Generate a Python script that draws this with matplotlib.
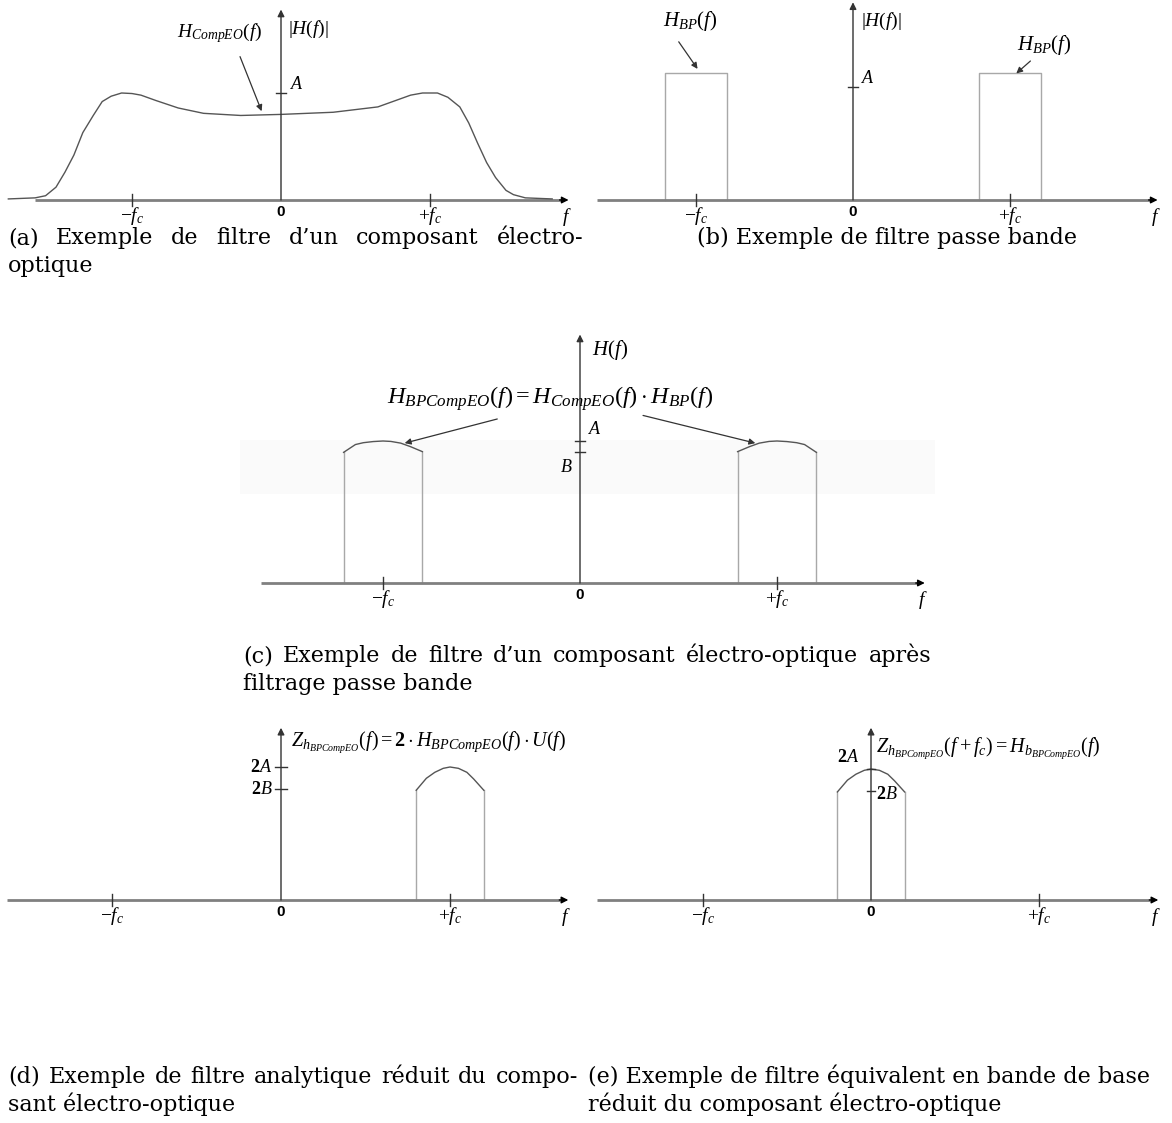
import matplotlib.pyplot as plt
from matplotlib.patches import Rectangle

W, H = 1172, 1123

# ---- data (f in units of f_c, magnitudes in units of A) ----
# (a) electro-optic component response
f_eo = [-1.83, -1.65, -1.58, -1.51, -1.45, -1.39, -1.33, -1.26, -1.20, -1.14,
        -1.07, -1.00, -0.94, -0.84, -0.69, -0.52, -0.27, 0.00, 0.35, 0.65,
        0.77, 0.87, 0.95, 1.05, 1.12, 1.20, 1.26, 1.32, 1.38, 1.44,
        1.51, 1.56, 1.64, 1.82]
h_eo = [0.01, 0.02, 0.04, 0.12, 0.26, 0.42, 0.63, 0.79, 0.92, 0.97,
        1.00, 0.995, 0.98, 0.93, 0.86, 0.81, 0.79, 0.80, 0.82, 0.87,
        0.93, 0.98, 1.00, 1.00, 0.96, 0.87, 0.72, 0.53, 0.35, 0.21,
        0.09, 0.05, 0.02, 0.01]

# (b) band-pass windows
bp_lo, bp_hi = 0.8, 1.2
bp_gain = 1.12

# (c) band-pass filtered response (dome between bp_lo and bp_hi)
f_dome = [0.80, 0.86, 0.91, 0.96, 1.00, 1.05, 1.10, 1.14, 1.20]
h_dome_c = [0.925, 0.96, 0.985, 0.997, 1.00, 0.996, 0.988, 0.975, 0.92]
level_A_c, level_B_c = 1.0, 0.92

# (d) reduced analytic filter, (e) baseband equivalent (same shape shifted by f_c)
h_dome_d = [1.65, 1.83, 1.92, 1.98, 2.00, 1.98, 1.92, 1.82, 1.65]
level_2A, level_2B = 2.0, 1.67

tick_f = [-1, 0, 1]
tick_lbl = [r"$-f_c$", "0", r"$+f_c$"]

plt.rcParams['mathtext.fontset'] = 'custom'
plt.rcParams['mathtext.rm'] = 'Liberation Serif'
plt.rcParams['mathtext.it'] = 'Liberation Serif:italic'
plt.rcParams['mathtext.bf'] = 'Liberation Serif:bold'

fig = plt.figure(figsize=(W / 100, H / 100), dpi=100)

AX_GREY = '#808080'
DARK = '#333333'
CURVE = '#555555'
BOX = '#a8a8a8'


def make_panel(box, origin, unit):
    # box = (left, top, right, bottom) px, origin = px of (0, 0), unit = px per unit
    l, t, r, b = box
    x0, y0 = origin
    ux, uy = unit
    ax = fig.add_axes([l / W, 1 - b / H, (r - l) / W, (b - t) / H])
    ax.set_xlim((l - x0) / ux, (r - x0) / ux)
    ax.set_ylim((y0 - b) / uy, (y0 - t) / uy)
    ax.axis('off')
    ax.ux, ax.uy = ux, uy
    return ax


def draw_axes(ax, xmin, xmax, ytop):
    dx = 1.0 / ax.ux
    dy = 1.0 / ax.uy
    ax.plot([xmin, xmax - 8 * dx], [0, 0], color=AX_GREY, lw=2, solid_capstyle='butt', zorder=2)
    ax.annotate('', xy=(xmax, 0), xytext=(xmax - 9 * dx, 0),
                arrowprops=dict(arrowstyle='-|>', color='black', lw=1, mutation_scale=10,
                                shrinkA=0, shrinkB=0))
    ax.annotate('', xy=(0, ytop), xytext=(0, 0),
                arrowprops=dict(arrowstyle='-|>', color=DARK, lw=1, mutation_scale=10,
                                shrinkA=0, shrinkB=0), zorder=3)
    for f, s in zip(tick_f, tick_lbl):
        if f != 0:
            ax.plot([f, f], [-6 * dy, 6 * dy], color=DARK, lw=1, zorder=3)
            ax.text(f, -5 * dy, s, ha='center', va='top', fontsize=14)
        else:
            ax.text(f, -5 * dy, s, ha='center', va='top', fontsize=11,
                    family='Liberation Sans', weight='bold')
    ax.text(xmax - 2 * dx, -6 * dy, r"$f$", ha='center', va='top', fontsize=14)


def ytick(ax, y, half=5):
    dx = 1.0 / ax.ux
    ax.plot([-half * dx, half * dx], [y, y], color=DARK, lw=1, zorder=3)


arrow_kw = dict(arrowstyle='-|>', color=DARK, lw=0.9, mutation_scale=9, shrinkA=0, shrinkB=0)

# ---------------- (a) ----------------
ax = make_panel((0, 0, 585, 230), (281, 200), (149, 107))
draw_axes(ax, -1.65, 1.93, 1.78)
ax.plot(f_eo, h_eo, color=CURVE, lw=1, zorder=2)
ytick(ax, 1.0)
ax.text(0.06, 1.0, r"$A$", ha='left', va='bottom', fontsize=13)
ax.text(0.05, 1.59, r"$|H(f)|$", ha='left', va='center', fontsize=14)
ax.text(-0.41, 1.56, r"$H_{CompEO}(f)$", ha='center', va='center', fontsize=14)
ax.annotate('', xy=(-0.13, 0.83), xytext=(-0.275, 1.34), arrowprops=arrow_kw)

# ---------------- (b) ----------------
ax = make_panel((590, 0, 1172, 230), (853, 200), (157, 113))
draw_axes(ax, -1.63, 1.94, 1.75)
for s in (-1, 1):
    xs = sorted([s * bp_lo, s * bp_hi])
    ax.plot([xs[0], xs[0], xs[1], xs[1]], [0, bp_gain, bp_gain, 0], color=BOX, lw=1, zorder=1)
ytick(ax, 1.0)
ax.text(0.05, 1.0, r"$A$", ha='left', va='bottom', fontsize=13)
ax.text(0.05, 1.58, r"$|H(f)|$", ha='left', va='center', fontsize=14)
ax.text(-1.04, 1.58, r"$H_{BP}(f)$", ha='center', va='center', fontsize=15)
ax.annotate('', xy=(-0.99, 1.16), xytext=(-1.11, 1.40), arrowprops=arrow_kw)
ax.text(1.22, 1.37, r"$H_{BP}(f)$", ha='center', va='center', fontsize=15)
ax.annotate('', xy=(1.04, 1.12), xytext=(1.13, 1.23), arrowprops=arrow_kw)

# ---------------- (c) ----------------
ax = make_panel((240, 330, 940, 620), (580, 583), (197, 142))
ax.add_patch(Rectangle((-1.73, 0.63), 3.53, 0.38, color='#fafafa', lw=0, zorder=0))
draw_axes(ax, -1.62, 1.75, 1.75)
for s in (-1, 1):
    fx = [s * f for f in f_dome]
    ax.plot(fx, h_dome_c, color=CURVE, lw=1, zorder=2)
    ax.plot([fx[0], fx[0]], [0, h_dome_c[0]], color=BOX, lw=1, zorder=1)
    ax.plot([fx[-1], fx[-1]], [0, h_dome_c[-1]], color=BOX, lw=1, zorder=1)
ytick(ax, level_A_c)
ytick(ax, level_B_c)
ax.text(0.04, 1.02, r"$A$", ha='left', va='bottom', fontsize=13)
ax.text(-0.04, 0.88, r"$B$", ha='right', va='top', fontsize=13)
ax.text(0.06, 1.64, r"$H(f)$", ha='left', va='center', fontsize=15)
ax.text(-0.15, 1.30, r"$H_{BPCompEO}(f) = H_{CompEO}(f)\cdot H_{BP}(f)$",
        ha='center', va='center', fontsize=17.5)
ax.annotate('', xy=(-0.89, 0.985), xytext=(-0.42, 1.155), arrowprops=arrow_kw)
ax.annotate('', xy=(0.89, 0.985), xytext=(0.32, 1.18), arrowprops=arrow_kw)

# ---------------- (d) ----------------
ax = make_panel((0, 715, 585, 930), (281, 900), (169, 66.5))
draw_axes(ax, -1.62, 1.70, 2.59)
ax.plot(f_dome, h_dome_d, color=CURVE, lw=1, zorder=2)
ax.plot([f_dome[0], f_dome[0]], [0, h_dome_d[0]], color=BOX, lw=1, zorder=1)
ax.plot([f_dome[-1], f_dome[-1]], [0, h_dome_d[-1]], color=BOX, lw=1, zorder=1)
ytick(ax, level_2A, 6)
ytick(ax, level_2B, 6)
ax.text(-0.05, level_2A, r"$\mathbf{2}A$", ha='right', va='center', fontsize=13)
ax.text(-0.05, level_2B, r"$\mathbf{2}B$", ha='right', va='center', fontsize=13)
ax.text(0.06, 2.37, r"$Z_{h_{BPCompEO}}(f) = \mathbf{2}\cdot H_{BPCompEO}(f)\cdot U(f)$",
        ha='left', va='center', fontsize=14.5)

# ---------------- (e) ----------------
ax = make_panel((590, 715, 1172, 930), (871, 900), (168, 65.5))
draw_axes(ax, -1.63, 1.71, 2.63)
f_e = [f - 1 for f in f_dome]
ax.plot(f_e, h_dome_d, color=CURVE, lw=1, zorder=2)
ax.plot([f_e[0], f_e[0]], [0, h_dome_d[0]], color=BOX, lw=1, zorder=1)
ax.plot([f_e[-1], f_e[-1]], [0, h_dome_d[-1]], color=BOX, lw=1, zorder=1)
ytick(ax, level_2A, 4)
ytick(ax, level_2B, 4)
ax.text(-0.07, 2.04, r"$\mathbf{2}A$", ha='right', va='bottom', fontsize=13)
ax.text(0.03, level_2B - 0.05, r"$\mathbf{2}B$", ha='left', va='center', fontsize=13)
ax.text(0.03, 2.32, r"$Z_{h_{BPCompEO}}(f + f_c) = H_{b_{BPCompEO}}(f)$",
        ha='left', va='center', fontsize=14.5)

# ---------------- captions ----------------
CAP = dict(fontsize=16, family='DejaVu Serif', va='baseline')
renderer = fig.canvas.get_renderer()


def justified(x0, x1, y, line):
    words = line.split(' ')
    texts = [fig.text(0, 1 - y / H, w, **CAP) for w in words]
    widths = [t.get_window_extent(renderer).width for t in texts]
    gap = (x1 - x0 - sum(widths)) / (len(words) - 1)
    x = x0
    for t, w in zip(texts, widths):
        t.set_x(x / W)
        x += w + gap


def plain(x, y, line, ha='left'):
    fig.text(x / W, 1 - y / H, line, ha=ha, **CAP)


justified(8, 583, 244, "(a) Exemple de filtre d\u2019un composant \u00e9lectro-")
plain(8, 272, "optique")
plain(887, 244, "(b) Exemple de filtre passe bande", ha='center')
justified(243, 931, 662, "(c) Exemple de filtre d\u2019un composant \u00e9lectro-optique apr\u00e8s")
plain(243, 690, "filtrage passe bande")
justified(8, 578, 1083, "(d) Exemple de filtre analytique r\u00e9duit du compo-")
plain(8, 1111, "sant \u00e9lectro-optique")
plain(588, 1083, "(e) Exemple de filtre \u00e9quivalent en bande de base")
plain(588, 1111, "r\u00e9duit du composant \u00e9lectro-optique")

fig.savefig('out.png', dpi=100)
